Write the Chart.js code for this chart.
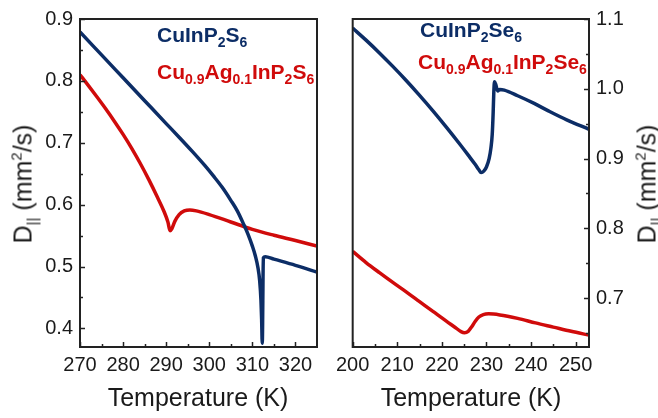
<!DOCTYPE html>
<html><head><meta charset="utf-8">
<script src="https://cdn.jsdelivr.net/npm/chart.js@4.4.0/dist/chart.umd.min.js"></script>
<style>
html,body{margin:0;padding:0;background:#fff;}
#wrap{position:relative;width:658px;height:418px;overflow:hidden;background:#fff;font-family:"Liberation Sans",Arial,sans-serif;color:#1a1a1a;}
canvas{position:absolute;top:0;}
#cL{left:0;}
#cR{left:330px;}
.t{position:absolute;white-space:nowrap;line-height:1;}
.leg{font-weight:bold;font-size:21px;}
.leg span{font-size:14px;position:relative;top:5px;}
.blue{color:#0c2d66;}
.red{color:#d00b0b;}
.xt{font-size:25px;transform:translateX(-50%);}
.yt{font-size:25px;transform:translate(-50%,-50%) rotate(-90deg);}
.yt .s{font-size:15px;position:relative;top:6px;}
.yt .p{font-size:15px;position:relative;top:-10px;}
</style></head>
<body>
<div id="wrap">
<canvas id="cL" width="330" height="418"></canvas>
<canvas id="cR" width="328" height="418"></canvas>
<div class="t leg blue" style="left:157px;top:24px;">CuInP<span>2</span>S<span>6</span></div>
<div class="t leg red" style="left:157px;top:61px;">Cu<span>0.9</span>Ag<span>0.1</span>InP<span>2</span>S<span>6</span></div>
<div class="t leg blue" style="left:420px;top:19px;">CuInP<span>2</span>Se<span>6</span></div>
<div class="t leg red" style="left:418px;top:51px;">Cu<span>0.9</span>Ag<span>0.1</span>InP<span>2</span>Se<span>6</span></div>
<div class="t xt" style="left:198px;top:385px;">Temperature (K)</div>
<div class="t xt" style="left:471px;top:385px;">Temperature (K)</div>
<div class="t yt" style="left:23px;top:184px;">D<span class="s">||</span> (mm<span class="p">2</span>/s)</div>
<div class="t yt" style="left:647px;top:184px;">D<span class="s">||</span> (mm<span class="p">2</span>/s)</div>
</div>
<script>
// ---- Left panel: sulfides ----
const tempCIPS = [270,275,280,285,290,293,296,299,301,303,305,306.5,308,309,310,310.7,311.3,311.7,312.0,312.15,312.3,312.55,313,315,320,325];
const dCIPS    = [0.879,0.842,0.805,0.768,0.731,0.709,0.6865,0.663,0.646,0.628,0.607,0.590,0.568,0.552,0.533,0.517,0.498,0.477,0.445,0.415,0.376,0.514,0.516,0.512,0.502,0.491];
const tempCAIPS = [270,272,274,276,278,280,282,284,286,288,289.5,290.4,290.9,291.3,292,293,294.2,295.5,297,300,305,310,315,320,325];
const dCAIPS    = [0.810,0.792,0.7735,0.7545,0.7345,0.7135,0.691,0.6665,0.640,0.6115,0.589,0.572,0.558,0.561,0.573,0.584,0.590,0.5915,0.590,0.584,0.572,0.560,0.5505,0.542,0.533];
const xTicksL  = [270,275,280,285,290,295,300,305,310,315,320];
const xLabelsL = ['270','','280','','290','','300','','310','','320'];
const yTicksL  = [0.4,0.45,0.5,0.55,0.6,0.65,0.7,0.75,0.8,0.85,0.9];
const yLabelsL = ['0.4','','0.5','','0.6','','0.7','','0.8','','0.9'];

// ---- Right panel: selenides ----
const tempCIPSe = [200,203,206,209,212,215,218,221,224,226,227.5,228.3,228.8,229.4,230.0,230.6,231.0,231.3,231.5,231.65,231.8,232.1,232.5,233,234,237,240.7,244,248,253];
const dCIPSe    = [1.087,1.0697,1.0514,1.0321,1.0119,0.9906,0.9684,0.9451,0.9209,0.9042,0.8914,0.884,0.880,0.882,0.888,0.900,0.915,0.935,0.965,0.995,1.010,1.006,0.997,0.999,0.998,0.990,0.979,0.968,0.9555,0.942];
const tempCAIPSe = [200,203,206,209,212,215,218,221,223,224.3,225.1,225.9,226.7,227.5,228.3,229.3,230.5,233,237,241,245,249,253];
const dCAIPSe    = [0.767,0.751,0.7365,0.7225,0.709,0.695,0.681,0.667,0.658,0.652,0.6505,0.6525,0.659,0.667,0.673,0.6765,0.6775,0.676,0.671,0.6645,0.6585,0.6525,0.647];
const xTicksR  = [200,205,210,215,220,225,230,235,240,245,250];
const xLabelsR = ['200','','210','','220','','230','','240','','250'];
const yTicksR  = [0.65,0.7,0.75,0.8,0.85,0.9,0.95,1.0,1.05,1.1];
const yLabelsR = ['','0.7','','0.8','','0.9','','1.0','','1.1'];

const BLUE = '#0c2d66', RED = '#d00b0b', AX = '#222';
Chart.defaults.font.family = '"Liberation Sans", Arial, sans-serif';
Chart.defaults.color = '#1a1a1a';

const pts = (xs, ys) => xs.map((x, i) => ({x, y: ys[i]}));

const frameTicks = {
  id: 'frameTicks',
  afterDraw(chart, args, opts) {
    const {ctx, chartArea: a} = chart;
    const xs = chart.scales.x, ys = chart.scales.y;
    ctx.save();
    ctx.strokeStyle = AX;
    ctx.lineWidth = 1.5;
    xs.ticks.forEach(t => {
      const p = Math.round(xs.getPixelForValue(t.value)) + 0.5;
      const len = t.label ? 5 : 3;
      ctx.beginPath(); ctx.moveTo(p, a.bottom); ctx.lineTo(p, a.bottom - len); ctx.stroke();
    });
    ys.ticks.forEach(t => {
      const p = Math.round(ys.getPixelForValue(t.value)) + 0.5;
      const len = t.label ? 5 : 3;
      const x0 = opts.side === 'right' ? a.right : a.left;
      const dir = opts.side === 'right' ? -1 : 1;
      ctx.beginPath(); ctx.moveTo(x0, p); ctx.lineTo(x0 + dir * len, p); ctx.stroke();
    });
    ctx.lineWidth = 2;
    ctx.strokeRect(a.left, a.top, a.right - a.left, a.bottom - a.top);
    ctx.restore();
  }
};

function makeChart(id, cfg) {
  return new Chart(document.getElementById(id), {
    type: 'line',
    data: {datasets: [
      {data: pts(cfg.t1, cfg.d1), borderColor: BLUE, borderWidth: 3.5, pointRadius: 0, cubicInterpolationMode: 'monotone'},
      {data: pts(cfg.t2, cfg.d2), borderColor: RED, borderWidth: 3.5, pointRadius: 0, cubicInterpolationMode: 'monotone'}
    ]},
    options: {
      responsive: false, animation: false, events: [],
      layout: {padding: cfg.pad},
      plugins: {legend: {display: false}, tooltip: {enabled: false}, frameTicks: {side: cfg.side}},
      scales: {
        x: {type: 'linear', min: cfg.xmin, max: cfg.xmax,
            afterBuildTicks: s => { s.ticks = cfg.xt.map(v => ({value: v})); },
            afterFit: s => { s.height = 71; },
            grid: {display: false, drawTicks: false}, border: {display: false},
            ticks: {autoSkip: false, maxRotation: 0, padding: 6, color: '#1a1a1a', font: {size: 20},
                    callback: (v, i) => cfg.xl[i]}},
        y: {type: 'linear', position: cfg.side, min: cfg.ymin, max: cfg.ymax,
            afterBuildTicks: s => { s.ticks = cfg.yt.map(v => ({value: v})); },
            afterFit: s => { s.width = cfg.yw; },
            grid: {display: false, drawTicks: false}, border: {display: false},
            ticks: {autoSkip: false, padding: 7, color: '#1a1a1a', font: {size: 20},
                    callback: (v, i) => cfg.yl[i]}}
      }
    },
    plugins: [frameTicks]
  });
}

makeChart('cL', {t1: tempCIPS, d1: dCIPS, t2: tempCAIPS, d2: dCAIPS,
  xmin: 270, xmax: 325, ymin: 0.37, ymax: 0.9, xt: xTicksL, xl: xLabelsL, yt: yTicksL, yl: yLabelsL,
  side: 'left', yw: 80, pad: {left: 0, top: 15, right: 13, bottom: 0}});
makeChart('cR', {t1: tempCIPSe, d1: dCIPSe, t2: tempCAIPSe, d2: dCAIPSe,
  xmin: 200, xmax: 253, ymin: 0.63, ymax: 1.1, xt: xTicksR, xl: xLabelsR, yt: yTicksR, yl: yLabelsR,
  side: 'right', yw: 69, pad: {left: 22, top: 15, right: 0, bottom: 0}});
</script>
</body></html>
